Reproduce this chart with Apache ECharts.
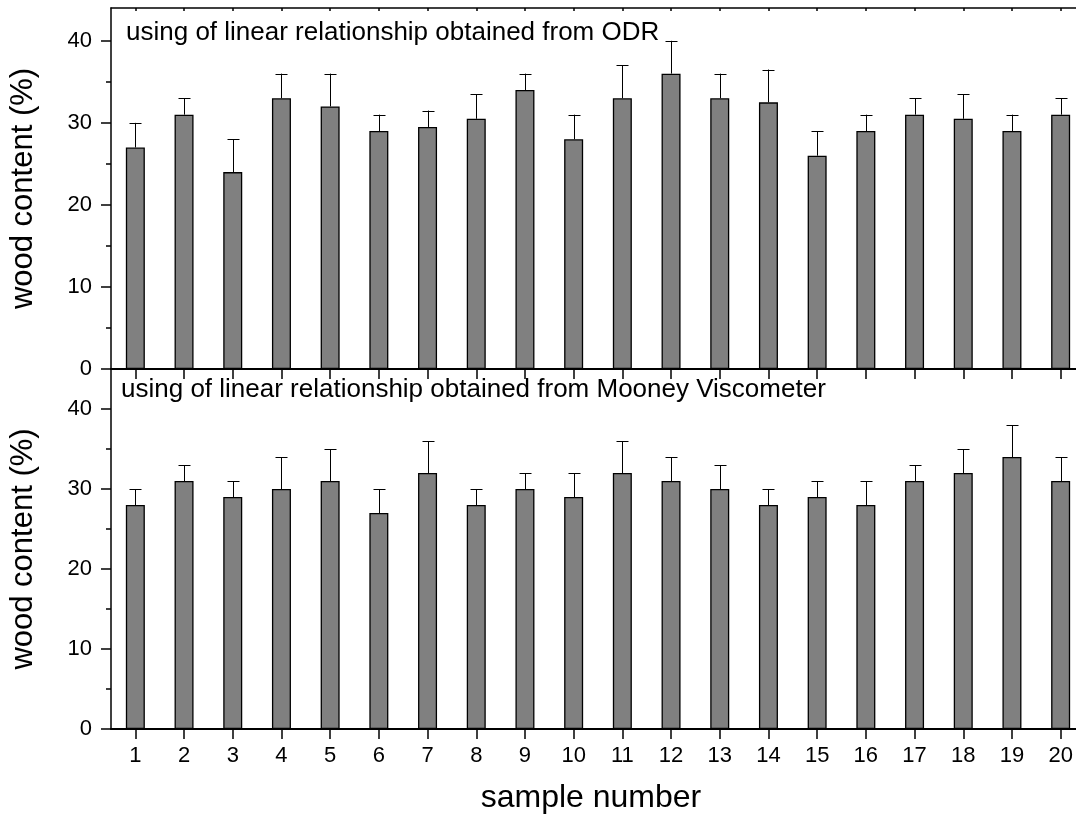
<!DOCTYPE html>
<html>
<head>
<meta charset="utf-8">
<script src="https://cdn.jsdelivr.net/npm/echarts@6/dist/echarts.min.js"></script>
<style>
html,body{margin:0;padding:0;background:#fff;}
#chart{width:1076px;height:821px;}
</style>
</head>
<body>
<div id="chart"></div>
<script>
const categories = ['1','2','3','4','5','6','7','8','9','10','11','12','13','14','15','16','17','18','19','20'];
const odrValues = [27,31,24,33,32,29,29.5,30.5,34,28,33,36,33,32.5,26,29,31,30.5,29,31];
const odrErrors = [3,2,4,3,4,2,2,3,2,3,4,4,3,4,3,2,2,3,2,2];
const mooneyValues = [28,31,29,30,31,27,32,28,30,29,32,31,30,28,29,28,31,32,34,31];
const mooneyErrors = [2,2,2,4,4,3,4,2,2,3,4,3,3,2,2,3,2,3,4,3];
const majorTicks = [0,10,20,30,40];
const minorTicks = [5,15,25,35,45];
const topTitle = 'using of linear relationship obtained from ODR';
const bottomTitle = 'using of linear relationship obtained from Mooney Viscometer';
const yName = 'wood content (%)';
const xName = 'sample number';

const FONT = "'Liberation Sans', Arial, sans-serif";
const chart = echarts.init(document.getElementById('chart'));

function errSeries(values, errors, xi, yi) {
  return {
    type: 'custom',
    xAxisIndex: xi, yAxisIndex: yi,
    data: values.map((v, i) => [i, v, v + errors[i]]),
    z: 1,
    renderItem: function (params, api) {
      const lo = api.coord([api.value(0), api.value(1)]);
      const hi = api.coord([api.value(0), api.value(2)]);
      const x = Math.round(lo[0]) + 0.5;
      const hw = 6;
      return {
        type: 'group',
        children: [
          {type: 'line', shape: {x1: x, y1: lo[1], x2: x, y2: hi[1]}, style: {stroke: '#000', lineWidth: 1}},
          {type: 'line', shape: {x1: x - hw, y1: Math.round(hi[1]) + 0.5, x2: x + hw, y2: Math.round(hi[1]) + 0.5}, style: {stroke: '#000', lineWidth: 1}}
        ]
      };
    }
  };
}

function yMajor(grid, max) {
  return {
    type: 'value', gridIndex: grid, min: 0, max: max, position: 'left',
    name: yName, nameLocation: 'middle', nameGap: 72, nameRotate: 90,
    nameTextStyle: {fontFamily: FONT, fontSize: 31, color: '#000'},
    axisLine: {show: true, lineStyle: {color: '#000', width: 1.5}},
    axisTick: {show: true, inside: false, length: 10, customValues: majorTicks, lineStyle: {color: '#000', width: 1.5}},
    axisLabel: {show: true, customValues: majorTicks, margin: 19, fontFamily: FONT, fontSize: 22, color: '#000'},
    splitLine: {show: false}
  };
}
function yMinor(grid, max) {
  return {
    type: 'value', gridIndex: grid, min: 0, max: max, position: 'left',
    axisLine: {show: false},
    axisTick: {show: true, inside: false, length: 5, customValues: minorTicks.filter(v => v < max), lineStyle: {color: '#000', width: 1.5}},
    axisLabel: {show: false},
    splitLine: {show: false}
  };
}

const option = {
  animation: false,
  backgroundColor: '#fff',
  textStyle: {fontFamily: FONT},
  grid: [
    {left: 111, width: 974, top: 8, height: 361, containLabel: false, outerBoundsMode: 'none'},
    {left: 111, width: 974, top: 369, height: 360, containLabel: false, outerBoundsMode: 'none'}
  ],
  xAxis: [
    {type: 'category', gridIndex: 0, data: categories, position: 'bottom', boundaryGap: true,
     axisLine: {show: true, onZero: false, lineStyle: {color: '#000', width: 2}},
     axisTick: {show: true, alignWithLabel: true, inside: false, length: 10, lineStyle: {color: '#000', width: 1.5}},
     axisLabel: {show: false}, splitLine: {show: false}},
    {type: 'category', gridIndex: 0, data: categories, position: 'top', boundaryGap: true,
     axisLine: {show: true, onZero: false, lineStyle: {color: '#000', width: 1.5}},
     axisTick: {show: true, alignWithLabel: true, inside: true, length: 3, lineStyle: {color: '#000', width: 1.5}},
     axisLabel: {show: false}, splitLine: {show: false}},
    {type: 'category', gridIndex: 1, data: categories, position: 'bottom', boundaryGap: true,
     name: xName, nameLocation: 'middle', nameGap: 53,
     nameTextStyle: {fontFamily: FONT, fontSize: 32, color: '#000', padding: [0, 14, 0, 0]},
     axisLine: {show: true, onZero: false, lineStyle: {color: '#000', width: 2}},
     axisTick: {show: true, alignWithLabel: true, inside: false, length: 10, lineStyle: {color: '#000', width: 1.5}},
     axisLabel: {show: true, margin: 16, fontFamily: FONT, fontSize: 22, color: '#000'},
     splitLine: {show: false}}
  ],
  yAxis: [
    yMajor(0, 44), yMinor(0, 44),
    yMajor(1, 45), yMinor(1, 45)
  ],
  series: [
    {type: 'bar', xAxisIndex: 0, yAxisIndex: 0, data: odrValues, barWidth: 19,
     itemStyle: {color: '#808080', borderColor: '#000', borderWidth: 1.3}, z: 2},
    errSeries(odrValues, odrErrors, 0, 0),
    {type: 'bar', xAxisIndex: 2, yAxisIndex: 2, data: mooneyValues, barWidth: 19,
     itemStyle: {color: '#808080', borderColor: '#000', borderWidth: 1.3}, z: 2},
    errSeries(mooneyValues, mooneyErrors, 2, 2)
  ],
  graphic: [
    {type: 'text', left: 126, top: 20, style: {text: topTitle, fontFamily: FONT, fontSize: 26, fill: '#000'}},
    {type: 'text', left: 121, top: 377, style: {text: bottomTitle, fontFamily: FONT, fontSize: 26, fill: '#000'}}
  ]
};
chart.setOption(option);
</script>
</body>
</html>
